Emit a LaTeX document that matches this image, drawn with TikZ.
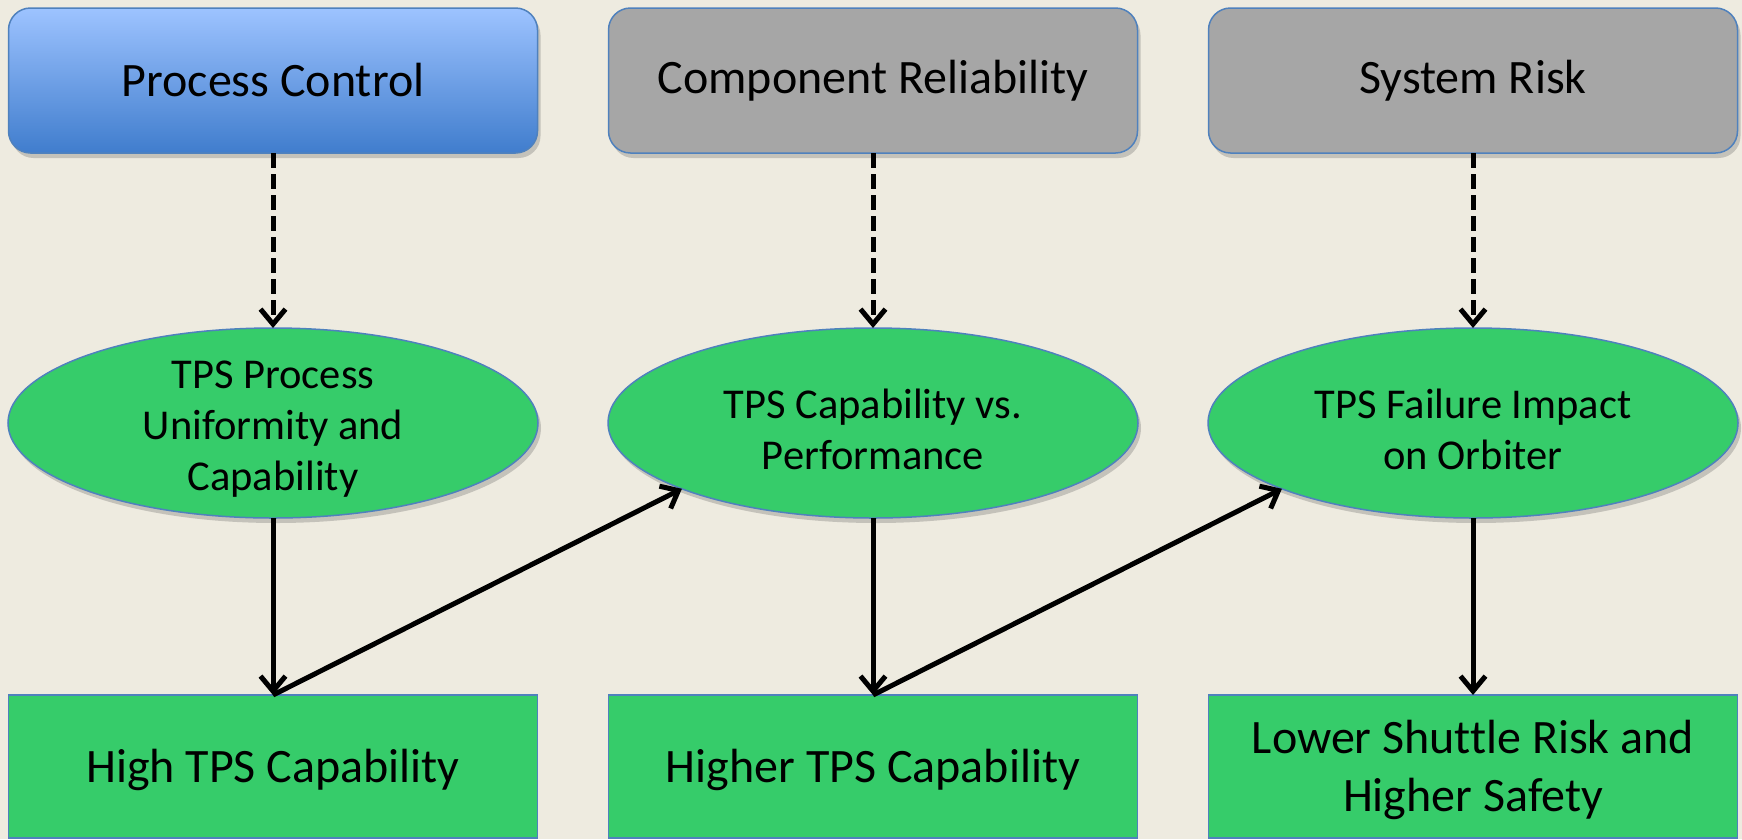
\documentclass[tikz,border=0pt]{standalone}
\usepackage{fontspec}
\setmainfont[Ligatures=NoCommon]{Carlito}
\usetikzlibrary{arrows.meta,shapes.geometric,shadows}
\definecolor{bgc}{RGB}{238,235,224}
\definecolor{grn}{RGB}{54,204,106}
\definecolor{gry}{RGB}{166,166,166}
\definecolor{bord}{RGB}{79,129,189}
\definecolor{btop}{RGB}{157,195,255}
\definecolor{bbot}{RGB}{64,125,205}
\definecolor{shadowc}{RGB}{196,194,186}
\begin{document}
\begin{tikzpicture}[x=1pt,y=-1pt,
  withshadow/.style={drop shadow={shadow xshift=3pt,shadow yshift=-5pt,fill=shadowc,opacity=1}},
  topbox/.style={draw=bord,line width=1.5pt,rounded corners=22pt,minimum width=529pt,minimum height=145pt,inner sep=0pt,outer sep=0pt,font=\fontsize{48}{57}\selectfont,withshadow},
  ellbox/.style={ellipse,draw=bord,line width=1.5pt,fill=grn,minimum width=530pt,minimum height=190pt,inner sep=0pt,outer sep=0pt,withshadow},
  elltext/.style={font=\fontsize{42.5}{51}\selectfont,align=center,inner sep=0pt,yshift=-6pt},
  botbox/.style={draw=bord,line width=1.5pt,fill=grn,minimum width=529pt,minimum height=143pt,inner sep=0pt,outer sep=0pt},
  bottext/.style={font=\fontsize{48}{58}\selectfont,align=center,inner sep=0pt,yshift=-3pt},
  dasharrow/.style={line width=5pt,dash pattern=on 15pt off 6pt,-{Straight Barb[length=15pt,width=25pt]}},
  solidarrow/.style={line width=5pt,-{Straight Barb[length=15pt,width=25pt]}}
]
\fill[bgc] (0,0) rectangle (1742,839);
\useasboundingbox (0,0) rectangle (1742,839);

\node[topbox,top color=btop,bottom color=bbot] (t1) at (273,80.5) {Process Control};
\node[topbox,fill=gry] (t2) at (873,80.5) {Component Reliability};
\node[topbox,fill=gry] (t3) at (1473,80.5) {System Risk};

\node[ellbox,label={[elltext]center:{TPS Process\\Uniformity and\\Capability}}] (e1) at (273,423) {};
\node[ellbox,label={[elltext]center:{TPS Capability vs.\\Performance}}] (e2) at (873,423) {};
\node[ellbox,label={[elltext]center:{TPS Failure Impact\\on Orbiter}}] (e3) at (1473,423) {};

\node[botbox,label={[bottext]center:{High TPS Capability}}] (b1) at (273,766.5) {};
\node[botbox,label={[bottext]center:{Higher TPS Capability}}] (b2) at (873,766.5) {};
\node[botbox,label={[bottext]center:{Lower Shuttle Risk and\\Higher Safety}}] (b3) at (1473,766.5) {};

\draw[dasharrow] (t1.south) -- (e1.north);
\draw[dasharrow] (t2.south) -- (e2.north);
\draw[dasharrow] (t3.south) -- (e3.north);

\draw[solidarrow] (e1.south) -- (b1.north);
\draw[solidarrow] (e2.south) -- (b2.north);
\draw[solidarrow] (e3.south) -- (b3.north);

\draw[solidarrow] (b1.north) -- (e2.199);
\draw[solidarrow] (b2.north) -- (e3.199);
\end{tikzpicture}
\end{document}
